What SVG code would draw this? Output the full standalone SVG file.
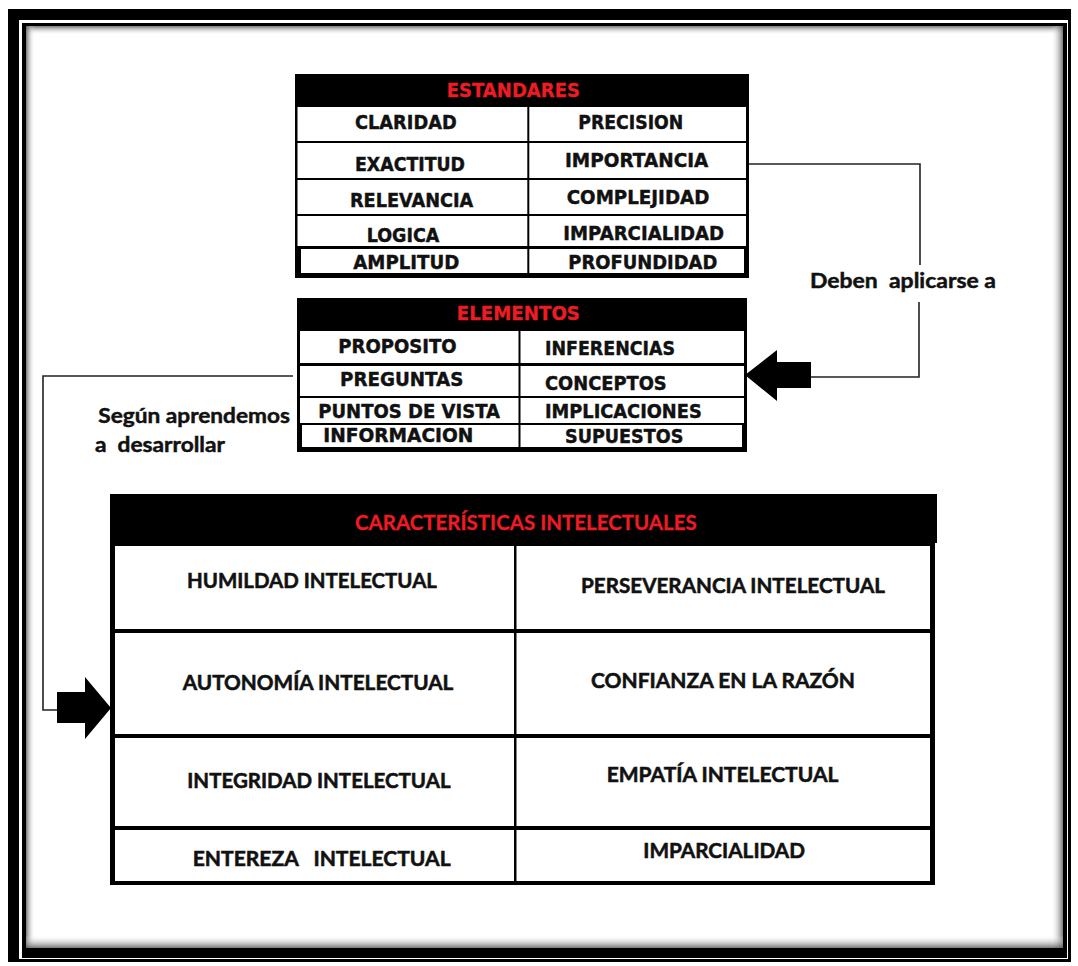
<svg xmlns="http://www.w3.org/2000/svg" width="1078" height="966" viewBox="0 0 1078 966">
  <style>
    .ink{fill:#000}
    .cell{fill:#fff}
    .t{font-family:"DejaVu Sans",Verdana,sans-serif;font-weight:bold;font-size:19.5px;fill:#111;stroke:#111;stroke-width:0.45}
    .th{font-family:"DejaVu Sans",Verdana,sans-serif;font-weight:bold;font-size:19.5px;fill:#ed1c24;stroke:#ed1c24;stroke-width:0.3}
    .c{font-family:Lato,"Liberation Sans",sans-serif;font-weight:bold;font-size:21px;fill:#111;stroke:#111;stroke-width:0.55}
    .ch{font-family:Lato,"Liberation Sans",sans-serif;font-weight:bold;font-size:21px;fill:#ed1c24;stroke:#ed1c24;stroke-width:0.3}
    .lbl{font-family:Lato,"Liberation Sans",sans-serif;font-weight:bold;font-size:20px;fill:#111;stroke:#111;stroke-width:0.45}
    .wire{fill:none;stroke:#222;stroke-width:1.6}
  </style>
  <defs>
    <linearGradient id="shTop" x1="0" y1="0" x2="0" y2="1">
      <stop offset="0" stop-color="#555" stop-opacity="0.8"/>
      <stop offset="1" stop-color="#fff" stop-opacity="0"/>
    </linearGradient>
    <linearGradient id="shLeft" x1="0" y1="0" x2="1" y2="0">
      <stop offset="0" stop-color="#555" stop-opacity="0.8"/>
      <stop offset="1" stop-color="#fff" stop-opacity="0"/>
    </linearGradient>
    <linearGradient id="shRight" x1="1" y1="0" x2="0" y2="0">
      <stop offset="0" stop-color="#555" stop-opacity="0.8"/>
      <stop offset="1" stop-color="#fff" stop-opacity="0"/>
    </linearGradient>
    <linearGradient id="shBottom" x1="0" y1="1" x2="0" y2="0">
      <stop offset="0" stop-color="#555" stop-opacity="0.8"/>
      <stop offset="1" stop-color="#fff" stop-opacity="0"/>
    </linearGradient>
  </defs>

  <rect width="1078" height="966" fill="#fff"/>

  <!-- page border: thick-thin double frame with soft inner shadow -->
  <g id="frame">
    <rect x="8" y="9" width="1063" height="953" class="ink"/>
    <rect x="19" y="20" width="1049" height="939" class="cell"/>
    <rect x="22" y="23" width="1045" height="935" class="ink"/>
    <rect x="26" y="26" width="1037" height="922" class="cell"/>
    <rect x="26" y="26" width="1037" height="9" fill="url(#shTop)"/>
    <rect x="26" y="26" width="9" height="922" fill="url(#shLeft)"/>
    <rect x="1051" y="26" width="12" height="922" fill="url(#shRight)"/>
    <rect x="26" y="935" width="1037" height="13" fill="url(#shBottom)"/>
  </g>

  <!-- ESTANDARES table -->
  <g id="estandares">
    <rect x="295" y="74" width="454" height="204" class="ink"/>
    <rect x="297.5" y="107" width="229.8" height="34" class="cell"/>
    <rect x="529.3" y="107" width="216.7" height="34" class="cell"/>
    <rect x="297.5" y="143" width="229.8" height="35" class="cell"/>
    <rect x="529.3" y="143" width="216.7" height="35" class="cell"/>
    <rect x="297.5" y="180" width="229.8" height="34" class="cell"/>
    <rect x="529.3" y="180" width="216.7" height="34" class="cell"/>
    <rect x="297.5" y="216" width="229.8" height="30" class="cell"/>
    <rect x="529.3" y="216" width="216.7" height="30" class="cell"/>
    <rect x="301" y="249" width="226.3" height="24" class="cell"/>
    <rect x="529.3" y="249" width="214.7" height="24" class="cell"/>
    <text class="th" x="446.7" y="96.7" textLength="133.3" lengthAdjust="spacingAndGlyphs">ESTANDARES</text>
    <text class="t" x="355" y="129.3" textLength="101.7" lengthAdjust="spacingAndGlyphs">CLARIDAD</text>
    <text class="t" x="578.3" y="129.3" textLength="105" lengthAdjust="spacingAndGlyphs">PRECISION</text>
    <text class="t" x="355" y="170.7" textLength="110" lengthAdjust="spacingAndGlyphs">EXACTITUD</text>
    <text class="t" x="565" y="167.3" textLength="143.3" lengthAdjust="spacingAndGlyphs">IMPORTANCIA</text>
    <text class="t" x="350" y="206.7" textLength="123.3" lengthAdjust="spacingAndGlyphs">RELEVANCIA</text>
    <text class="t" x="566.7" y="204" textLength="142.7" lengthAdjust="spacingAndGlyphs">COMPLEJIDAD</text>
    <text class="t" x="366.7" y="241.7" textLength="72.7" lengthAdjust="spacingAndGlyphs">LOGICA</text>
    <text class="t" x="563.3" y="240" textLength="160.7" lengthAdjust="spacingAndGlyphs">IMPARCIALIDAD</text>
    <text class="t" x="353.3" y="269" textLength="106" lengthAdjust="spacingAndGlyphs">AMPLITUD</text>
    <text class="t" x="568.3" y="269" textLength="149" lengthAdjust="spacingAndGlyphs">PROFUNDIDAD</text>
  </g>

  <!-- ELEMENTOS table -->
  <g id="elementos">
    <rect x="297" y="298" width="450" height="154" class="ink"/>
    <rect x="300" y="331" width="218.5" height="32" class="cell"/>
    <rect x="520.5" y="331" width="223.5" height="32" class="cell"/>
    <rect x="300" y="366" width="218.5" height="30" class="cell"/>
    <rect x="520.5" y="366" width="223.5" height="30" class="cell"/>
    <rect x="300" y="398" width="218.5" height="25" class="cell"/>
    <rect x="520.5" y="398" width="223.5" height="25" class="cell"/>
    <rect x="302" y="425" width="216.5" height="22" class="cell"/>
    <rect x="520.5" y="425" width="221.5" height="22" class="cell"/>
    <text class="th" x="456.7" y="320" textLength="123.3" lengthAdjust="spacingAndGlyphs">ELEMENTOS</text>
    <text class="t" x="338.3" y="352.7" textLength="118.3" lengthAdjust="spacingAndGlyphs">PROPOSITO</text>
    <text class="t" x="545" y="355" textLength="130" lengthAdjust="spacingAndGlyphs">INFERENCIAS</text>
    <text class="t" x="340" y="386" textLength="123.3" lengthAdjust="spacingAndGlyphs">PREGUNTAS</text>
    <text class="t" x="545" y="390" textLength="121.7" lengthAdjust="spacingAndGlyphs">CONCEPTOS</text>
    <text class="t" x="318.3" y="418.3" textLength="181.7" lengthAdjust="spacingAndGlyphs">PUNTOS DE VISTA</text>
    <text class="t" x="545" y="418.3" textLength="156.7" lengthAdjust="spacingAndGlyphs">IMPLICACIONES</text>
    <text class="t" x="323.3" y="441.7" textLength="150" lengthAdjust="spacingAndGlyphs">INFORMACION</text>
    <text class="t" x="565" y="443.3" textLength="118.3" lengthAdjust="spacingAndGlyphs">SUPUESTOS</text>
  </g>

  <!-- CARACTERÍSTICAS INTELECTUALES table -->
  <g id="caracteristicas">
    <rect x="110" y="494" width="825" height="391" class="ink"/>
    <rect x="930" y="494" width="7" height="49" class="ink"/>
    <rect x="115" y="546" width="399" height="83" class="cell"/>
    <rect x="516.5" y="546" width="413.5" height="83" class="cell"/>
    <rect x="115" y="633" width="399" height="101" class="cell"/>
    <rect x="516.5" y="633" width="413.5" height="101" class="cell"/>
    <rect x="115" y="738" width="399" height="88" class="cell"/>
    <rect x="516.5" y="738" width="413.5" height="88" class="cell"/>
    <rect x="115" y="830" width="399" height="51" class="cell"/>
    <rect x="516.5" y="830" width="413.5" height="51" class="cell"/>
    <text class="ch" x="355" y="530" textLength="341.7" lengthAdjust="spacingAndGlyphs">CARACTERÍSTICAS INTELECTUALES</text>
    <text class="c" x="187" y="588.3" textLength="250" lengthAdjust="spacingAndGlyphs">HUMILDAD INTELECTUAL</text>
    <text class="c" x="581" y="593.3" textLength="304" lengthAdjust="spacingAndGlyphs">PERSEVERANCIA INTELECTUAL</text>
    <text class="c" x="182.7" y="690" textLength="270.7" lengthAdjust="spacingAndGlyphs">AUTONOMÍA INTELECTUAL</text>
    <text class="c" x="591" y="688.3" textLength="264" lengthAdjust="spacingAndGlyphs">CONFIANZA EN LA RAZÓN</text>
    <text class="c" x="187.3" y="788.3" textLength="263.3" lengthAdjust="spacingAndGlyphs">INTEGRIDAD INTELECTUAL</text>
    <text class="c" x="606.7" y="781.7" textLength="231.7" lengthAdjust="spacingAndGlyphs">EMPATÍA INTELECTUAL</text>
    <text class="c" x="192.7" y="865.7" textLength="258" lengthAdjust="spacingAndGlyphs" xml:space="preserve">ENTEREZA   INTELECTUAL</text>
    <text class="c" x="643.3" y="858.3" textLength="161.7" lengthAdjust="spacingAndGlyphs">IMPARCIALIDAD</text>
  </g>

  <!-- connectors with block arrows and their labels -->
  <g id="connectors">
    <path class="wire" d="M749,164 H920 V265 M919,302 V377 H810"/>
    <polygon class="ink" points="745,375 777,350 777,362 811,362 811,388 777,388 777,401"/>
    <path class="wire" d="M293,376 H43 V710 H58"/>
    <polygon class="ink" points="57,692 85,692 85,677 111,708 85,739 85,723 57,723"/>
    <text class="lbl" x="810" y="288.3" textLength="186" lengthAdjust="spacingAndGlyphs" xml:space="preserve">Deben  aplicarse a</text>
    <text class="lbl" x="98.3" y="423.3" textLength="191.7" lengthAdjust="spacingAndGlyphs">Según aprendemos</text>
    <text class="lbl" x="95" y="452" textLength="130" lengthAdjust="spacingAndGlyphs" xml:space="preserve">a  desarrollar</text>
  </g>
</svg>
